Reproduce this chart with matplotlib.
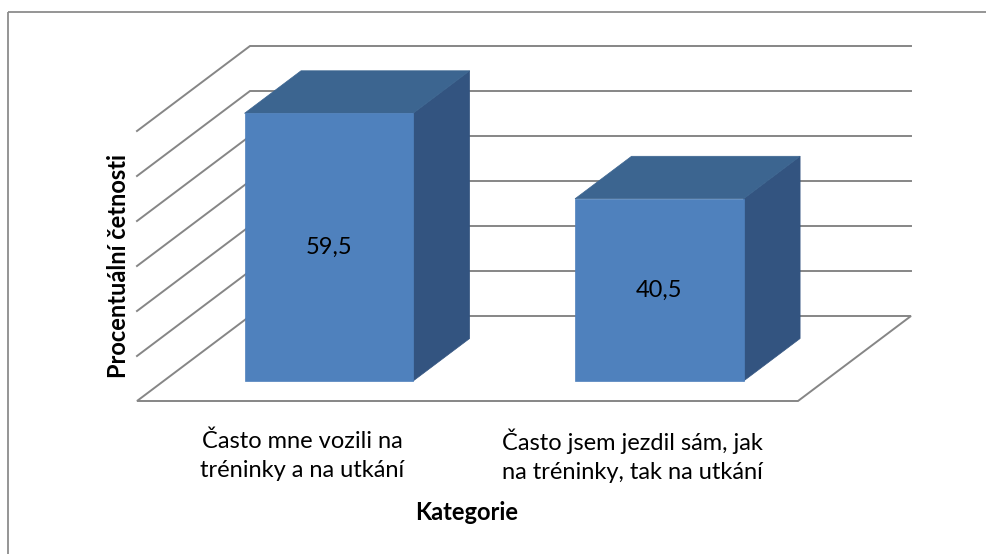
import matplotlib.pyplot as plt
from matplotlib.patches import Polygon, Rectangle

plt.rcParams['font.family'] = ['Lato', 'DejaVu Sans']

categories = ["Často mne vozili na\ntréninky a na utkání",
              "Často jsem jezdil sám, jak\nna tréninky, tak na utkání"]
values = [59.5, 40.5]
value_labels = ["59,5", "40,5"]
y_max = 60
y_step = 10

W, H = 987, 554
# layout of the 3D box in pixels
X0, Y0 = 137, 401        # front-left floor corner
FLOOR_W = 661            # front floor width
DX, DY = 113, 85         # depth offset of the back wall
SY = 4.5                 # pixels per value unit
BAR_D0, BAR_D1 = 0.235, 0.735   # bar depth span (fraction of floor depth)
BAR_FRAC = 0.51          # bar width as fraction of category slot

def P(x, v, d):
    return (X0 + x + d * DX, Y0 - v * SY - d * DY)

fig = plt.figure(figsize=(W / 100, H / 100), dpi=100)
ax = fig.add_axes([0, 0, 1, 1])
ax.set_xlim(0, W)
ax.set_ylim(H, 0)
ax.axis('off')

grid = '#868686'
# outer chart border
ax.add_patch(Rectangle((8, 12), W, H, fill=False, ec='#8c8c8c', lw=1.3))

# floor
floor = [P(0, 0, 0), P(FLOOR_W, 0, 0), P(FLOOR_W, 0, 1), P(0, 0, 1)]
ax.add_patch(Polygon(floor, closed=True, fill=False, ec=grid, lw=1.4, zorder=1))

# gridlines on back wall and left side wall
v = y_step
while v <= y_max:
    xs, ys = zip(P(0, v, 0), P(0, v, 1), P(FLOOR_W, v, 1))
    ax.plot(xs, ys, color=grid, lw=1.4, solid_joinstyle='miter', zorder=1)
    v += y_step

slot = FLOOR_W / len(values)
front_c = '#4f81bd'
top_c = '#3c6590'
side_c = '#335480'
for i, (val, lab) in enumerate(zip(values, value_labels)):
    cx = slot * (i + 0.5)
    x1 = cx - slot * BAR_FRAC / 2
    x2 = cx + slot * BAR_FRAC / 2
    side = [P(x2, 0, BAR_D0), P(x2, 0, BAR_D1), P(x2, val, BAR_D1), P(x2, val, BAR_D0)]
    top = [P(x1, val, BAR_D0), P(x2, val, BAR_D0), P(x2, val, BAR_D1), P(x1, val, BAR_D1)]
    front = [P(x1, 0, BAR_D0), P(x2, 0, BAR_D0), P(x2, val, BAR_D0), P(x1, val, BAR_D0)]
    ax.add_patch(Polygon(side, closed=True, fc=side_c, ec=side_c, lw=0.5, zorder=3))
    ax.add_patch(Polygon(top, closed=True, fc=top_c, ec=top_c, lw=0.5, zorder=3))
    ax.add_patch(Polygon(front, closed=True, fc=front_c, ec=front_c, lw=0.5, zorder=3))
    tx, ty = P(cx, val / 2, BAR_D0)
    ax.text(tx, ty, lab, ha='center', va='center', fontsize=17, color='black',
            zorder=4)
    lx, _ = P(cx, 0, 0)
    ax.text(lx, 456, categories[i], ha='center', va='center', fontsize=17,
            linespacing=1.45, color='black')

ax.text(467, 512, "Kategorie", ha='center', va='center', fontsize=17,
        fontweight='bold')
ax.text(118, 266, "Procentuální četnosti", ha='center', va='center',
        fontsize=17, fontweight='bold', rotation=90)

fig.savefig('out.png', dpi=100)
